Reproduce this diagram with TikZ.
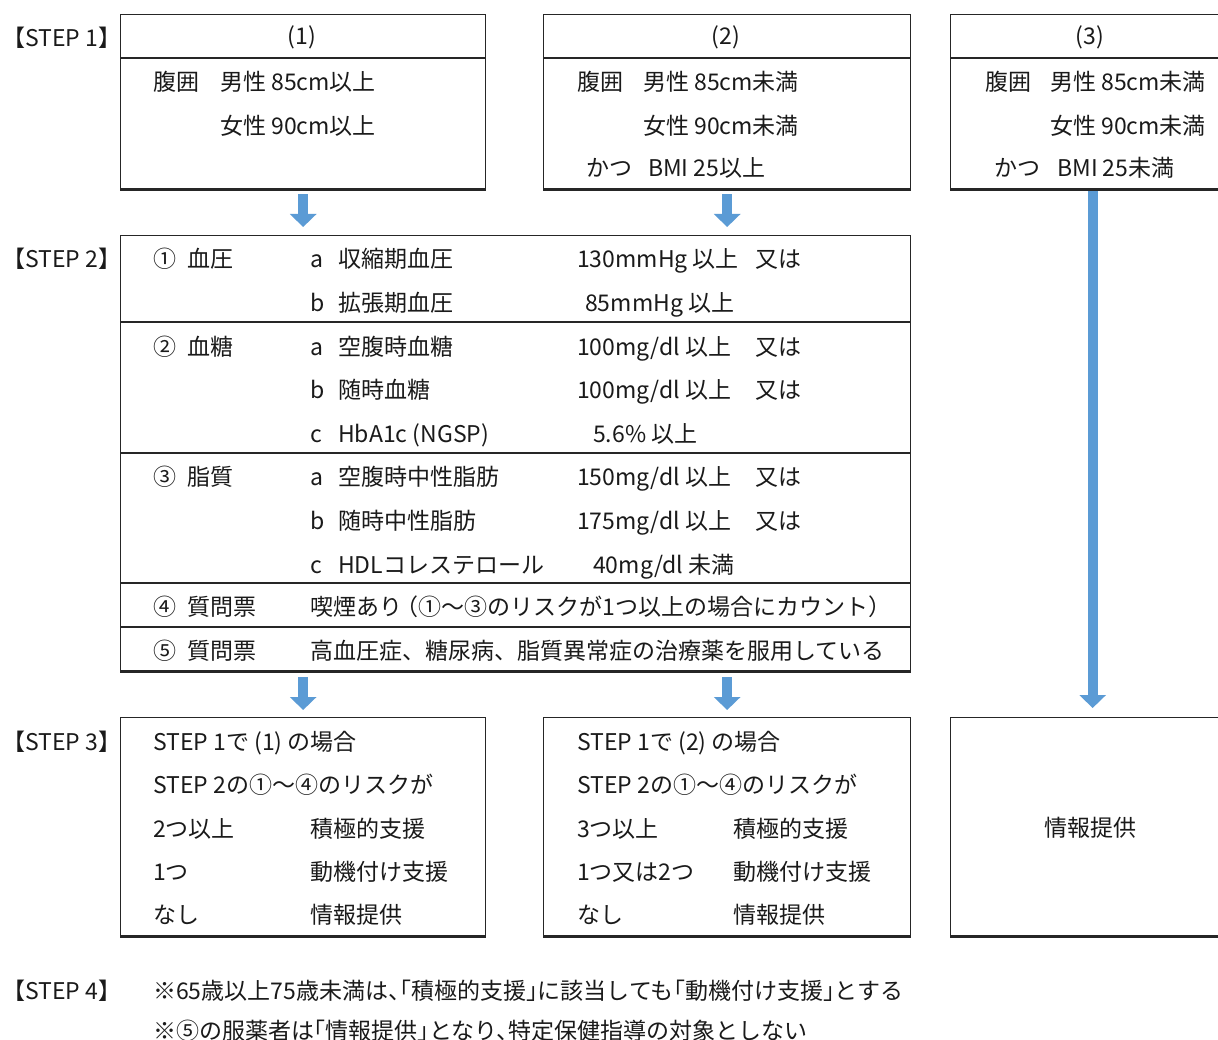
\documentclass[tikz,border=0pt]{standalone}
\usepackage{fontspec}
\setmainfont{Noto Sans CJK JP}
\usetikzlibrary{arrows.meta,calc}
\definecolor{arrblue}{HTML}{5B9BD5}
\definecolor{ink}{HTML}{1A1A1A}
\definecolor{frame}{HTML}{262626}
\newcommand\tx[4]{\node[txt] (#1) at (#2,#3+9) {#4};}
\newcommand\halfpunct{\addfontfeature{RawFeature=+halt}}
\begin{document}
\begin{tikzpicture}[x=1pt,y=-1pt,
  txt/.style={anchor=base west,inner sep=0pt,text=ink,font=\fontsize{23pt}{27pt}\selectfont},
  ctxt/.style={txt,anchor=base},
  boxn/.style={draw=frame,line width=1.3pt,anchor=north west,inner sep=0pt,minimum width=#1},
  boxh/.style={minimum height=#1},
  bottomline/.style={draw=frame,line width=2.6pt},
  divline/.style={draw=frame,line width=2pt},
  barrow/.style={draw=arrblue,line width=10pt,-{Triangle[width=26pt,length=13pt]}}
]
\useasboundingbox[fill=white] (0,0) rectangle (1218,1040);

% ---------- STEP 1 boxes
\node[boxn=365pt,boxh=174pt] (b1) at (120,14) {};
\node[boxn=367pt,boxh=174pt] (b2) at (543,14) {};
\node[boxn=284pt,boxh=174pt] (b3) at (950,14) {};
\draw[divline] (b1.west |- 0,58) -- (b1.east |- 0,58);
\draw[divline] (b2.west |- 0,58) -- (b2.east |- 0,58);
\draw[divline] (b3.west |- 0,58) -- (b3.east |- 0,58);
\draw[bottomline] (b1.south west) -- (b1.south east);
\draw[bottomline] (b2.south west) -- (b2.south east);
\draw[bottomline] (b3.south west) -- (b3.south east);

\tx{s1}{2}{38}{【STEP 1】}
\node[ctxt] (h1) at (302,36+9) {(1)};
\node[ctxt] (h2) at (726,36+9) {(2)};
\node[ctxt] (h3) at (1090,36+9) {(3)};

\tx{b1a}{153}{82}{腹囲}
\tx{b1b}{220}{82}{男性 85cm以上}
\tx{b1c}{220}{126}{女性 90cm以上}

\tx{b2a}{577}{82}{腹囲}
\tx{b2b}{643}{82}{男性 85cm未満}
\tx{b2c}{643}{126}{女性 90cm未満}
\tx{b2d}{586}{168}{かつ}
\tx{b2e}{648}{168}{BMI 25以上}

\tx{b3a}{985}{82}{腹囲}
\tx{b3b}{1050}{82}{男性 85cm未満}
\tx{b3c}{1050}{126}{女性 90cm未満}
\tx{b3d}{994}{168}{かつ}
\tx{b3e}{1057}{168}{BMI 25未満}

% ---------- STEP 2 box
\node[boxn=790pt,boxh=435pt] (s2) at (120,235) {};
\draw[divline] (s2.west |- 0,322) -- (s2.east |- 0,322);
\draw[divline] (s2.west |- 0,453) -- (s2.east |- 0,453);
\draw[divline] (s2.west |- 0,583) -- (s2.east |- 0,583);
\draw[divline] (s2.west |- 0,627) -- (s2.east |- 0,627);
\draw[bottomline] (s2.south west) -- (s2.south east);

\tx{s2l}{2}{259}{【STEP 2】}
\tx{r1n}{153}{259}{①}
\tx{r1t}{187}{259}{血圧}
\tx{r1aa}{310}{259}{a}
\tx{r1ab}{338}{259}{収縮期血圧}
\tx{r1ac}{577}{259}{130mmHg 以上}
\tx{r1ad}{755}{259}{又は}
\tx{r1ba}{310}{303}{b}
\tx{r1bb}{338}{303}{拡張期血圧}
\tx{r1bc}{585}{303}{85mmHg 以上}

\tx{r2n}{153}{347}{②}
\tx{r2t}{187}{347}{血糖}
\tx{r2aa}{310}{347}{a}
\tx{r2ab}{338}{347}{空腹時血糖}
\tx{r2ac}{577}{347}{100mg/dl 以上}
\tx{r2ad}{755}{347}{又は}
\tx{r2ba}{310}{390}{b}
\tx{r2bb}{338}{390}{随時血糖}
\tx{r2bc}{577}{390}{100mg/dl 以上}
\tx{r2bd}{755}{390}{又は}
\tx{r2ca}{310}{433}{c}
\tx{r2cb}{338}{433}{HbA1c (NGSP)}
\tx{r2cc}{593}{433}{5.6\% 以上}

\tx{r3n}{153}{476}{③}
\tx{r3t}{187}{476}{脂質}
\tx{r3aa}{310}{476}{a}
\tx{r3ab}{338}{476}{空腹時中性脂肪}
\tx{r3ac}{577}{476}{150mg/dl 以上}
\tx{r3ad}{755}{476}{又は}
\tx{r3ba}{310}{520}{b}
\tx{r3bb}{338}{520}{随時中性脂肪}
\tx{r3bc}{577}{520}{175mg/dl 以上}
\tx{r3bd}{755}{520}{又は}
\tx{r3ca}{310}{564}{c}
\tx{r3cb}{338}{564}{HDLコレステロール}
\tx{r3cc}{593}{564}{40mg/dl 未満}

\tx{r4n}{153}{606}{④}
\tx{r4t}{187}{606}{質問票}
\tx{r4b}{310}{606}{喫煙あり {\halfpunct（}①～③のリスクが1つ以上の場合にカウント{\halfpunct）}}

\tx{r5n}{153}{650}{⑤}
\tx{r5t}{187}{650}{質問票}
\tx{r5b}{310}{650}{高血圧症、糖尿病、脂質異常症の治療薬を服用している}

% ---------- STEP 3 boxes
\node[boxn=365pt,boxh=218pt] (c1) at (120,717) {};
\node[boxn=367pt,boxh=218pt] (c2) at (543,717) {};
\node[boxn=284pt,boxh=218pt] (c3) at (950,717) {};
\draw[bottomline] (c1.south west) -- (c1.south east);
\draw[bottomline] (c2.south west) -- (c2.south east);
\draw[bottomline] (c3.south west) -- (c3.south east);

\tx{s3l}{2}{741}{【STEP 3】}
\tx{c1a}{153}{741}{STEP 1で (1) の場合}
\tx{c1b}{153}{784}{STEP 2の①～④のリスクが}
\tx{c1c}{153}{828}{2つ以上}
\tx{c1d}{310}{828}{積極的支援}
\tx{c1e}{153}{871}{1つ}
\tx{c1f}{310}{871}{動機付け支援}
\tx{c1g}{153}{914}{なし}
\tx{c1h}{310}{914}{情報提供}

\tx{c2a}{577}{741}{STEP 1で (2) の場合}
\tx{c2b}{577}{784}{STEP 2の①～④のリスクが}
\tx{c2c}{577}{828}{3つ以上}
\tx{c2d}{733}{828}{積極的支援}
\tx{c2e}{577}{871}{1つ又は2つ}
\tx{c2f}{733}{871}{動機付け支援}
\tx{c2g}{577}{914}{なし}
\tx{c2h}{733}{914}{情報提供}

\node[ctxt] (c3a) at (1090,827+9) {情報提供};

% ---------- STEP 4
\tx{s4l}{2}{990}{【STEP 4】}
\tx{n1}{153}{990}{\halfpunct ※65歳以上75歳未満は、「積極的支援」に該当しても「動機付け支援」とする}
\tx{n2}{153}{1030}{\halfpunct ※⑤の服薬者は「情報提供」となり、特定保健指導の対象としない}

% ---------- arrows
\draw[barrow] ([yshift=-5pt]b1.south) -- ([yshift=8pt]b1.south |- s2.north);
\draw[barrow] ([yshift=-5pt]b2.south) -- ([yshift=8pt]b2.south |- s2.north);
\draw[barrow] ([yshift=-2pt]b3.south) -- ([yshift=9pt]c3.north);
\draw[barrow] ([yshift=-6pt]s2.south -| c1.north) -- ([yshift=7pt]c1.north);
\draw[barrow] ([yshift=-6pt]s2.south -| c2.north) -- ([yshift=7pt]c2.north);
\end{tikzpicture}
\end{document}
